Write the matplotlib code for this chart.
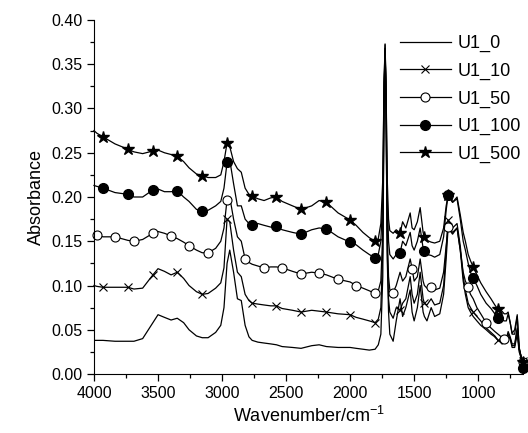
import matplotlib
matplotlib.use('Agg')
import matplotlib.pyplot as plt
from matplotlib.ticker import MultipleLocator, FormatStrFormatter

plt.rcParams['font.family'] = ['Liberation Sans', 'DejaVu Sans']
plt.rcParams['mathtext.fontset'] = 'custom'
plt.rcParams['mathtext.rm'] = 'Liberation Sans'

# wavenumber grid (cm-1)
wavenumber = [4000, 3977, 3930, 3836, 3735, 3688, 3620, 3540, 3500, 3450,
              3398, 3350, 3300, 3258, 3200, 3155, 3109, 3050, 3010, 2985,
              2961, 2940, 2910, 2880, 2850, 2820, 2790, 2765, 2720, 2672,
              2620, 2575, 2531, 2450, 2383, 2300, 2242, 2185, 2094, 2000,
              1953, 1900, 1850, 1805, 1780, 1760, 1745, 1735, 1727, 1720,
              1710, 1700, 1690, 1664, 1640, 1610, 1590, 1565, 1531, 1516,
              1500, 1475, 1453, 1430, 1420, 1400, 1367, 1340, 1300, 1270,
              1250, 1235, 1200, 1165, 1140, 1117, 1100, 1078, 1060, 1039,
              1010, 980, 938, 900, 870, 845, 820, 797, 780, 766,
              750, 735, 715, 695, 680, 665, 650]

u1_0 = [0.038, 0.038, 0.038, 0.037, 0.037, 0.037, 0.040, 0.058, 0.067, 0.064,
        0.061, 0.063, 0.058, 0.050, 0.043, 0.041, 0.041, 0.047, 0.055, 0.075,
        0.125, 0.140, 0.115, 0.085, 0.083, 0.055, 0.042, 0.038, 0.036, 0.035,
        0.034, 0.033, 0.031, 0.030, 0.029, 0.032, 0.033, 0.031, 0.030, 0.030,
        0.029, 0.028, 0.027, 0.028, 0.033, 0.045, 0.110, 0.300, 0.373, 0.300,
        0.130, 0.070, 0.045, 0.037, 0.060, 0.085, 0.065, 0.075, 0.095, 0.070,
        0.060, 0.075, 0.100, 0.070, 0.065, 0.060, 0.075, 0.065, 0.068, 0.090,
        0.130, 0.165, 0.158, 0.165, 0.140, 0.105, 0.090, 0.075, 0.070, 0.065,
        0.060, 0.055, 0.050, 0.045, 0.042, 0.038, 0.036, 0.035, 0.035, 0.042,
        0.040, 0.030, 0.030, 0.045, 0.025, 0.018, 0.012]

u1_10 = [0.100, 0.099, 0.098, 0.098, 0.098, 0.096, 0.097, 0.112, 0.119, 0.116,
         0.112, 0.115, 0.108, 0.100, 0.093, 0.090, 0.091, 0.097, 0.103, 0.120,
         0.175, 0.172, 0.140, 0.115, 0.110, 0.090, 0.083, 0.080, 0.079, 0.078,
         0.077, 0.077, 0.074, 0.072, 0.070, 0.072, 0.071, 0.070, 0.068, 0.067,
         0.064, 0.062, 0.060, 0.058, 0.062, 0.075, 0.140, 0.310, 0.368, 0.310,
         0.140, 0.085, 0.070, 0.063, 0.075, 0.072, 0.080, 0.085, 0.110, 0.090,
         0.080, 0.090, 0.115, 0.085, 0.080, 0.078, 0.085, 0.078, 0.080, 0.100,
         0.140, 0.174, 0.165, 0.170, 0.145, 0.110, 0.095, 0.080, 0.075, 0.070,
         0.065, 0.060, 0.052, 0.047, 0.043, 0.038, 0.037, 0.036, 0.037, 0.045,
         0.040, 0.032, 0.032, 0.050, 0.028, 0.020, 0.015]

u1_50 = [0.158, 0.157, 0.155, 0.155, 0.151, 0.150, 0.152, 0.159, 0.161, 0.159,
         0.156, 0.153, 0.149, 0.145, 0.140, 0.137, 0.137, 0.142, 0.150, 0.165,
         0.197, 0.200, 0.175, 0.155, 0.150, 0.130, 0.126, 0.124, 0.122, 0.120,
         0.121, 0.121, 0.120, 0.116, 0.113, 0.115, 0.114, 0.112, 0.107, 0.104,
         0.100, 0.097, 0.094, 0.091, 0.094, 0.105, 0.160, 0.320, 0.365, 0.320,
         0.160, 0.110, 0.095, 0.092, 0.100, 0.115, 0.105, 0.110, 0.130, 0.119,
         0.105, 0.110, 0.130, 0.105, 0.100, 0.097, 0.098, 0.095, 0.097, 0.115,
         0.145, 0.166, 0.160, 0.165, 0.140, 0.115, 0.105, 0.098, 0.090, 0.085,
         0.075, 0.068, 0.058, 0.052, 0.048, 0.045, 0.042, 0.040, 0.040, 0.048,
         0.042, 0.034, 0.034, 0.052, 0.028, 0.020, 0.014]

u1_100 = [0.213, 0.212, 0.210, 0.205, 0.203, 0.200, 0.200, 0.208, 0.209, 0.206,
          0.206, 0.207, 0.200, 0.195, 0.186, 0.184, 0.185, 0.190, 0.195, 0.210,
          0.239, 0.242, 0.215, 0.190, 0.190, 0.175, 0.170, 0.168, 0.170, 0.168,
          0.166, 0.167, 0.163, 0.160, 0.158, 0.163, 0.165, 0.164, 0.155, 0.149,
          0.146, 0.140, 0.135, 0.131, 0.135, 0.150, 0.200, 0.330, 0.368, 0.330,
          0.200, 0.150, 0.135, 0.130, 0.135, 0.137, 0.150, 0.145, 0.160, 0.145,
          0.140, 0.150, 0.165, 0.142, 0.139, 0.135, 0.134, 0.132, 0.135, 0.155,
          0.185, 0.202, 0.194, 0.198, 0.175, 0.150, 0.140, 0.125, 0.115, 0.108,
          0.100, 0.090, 0.080, 0.074, 0.068, 0.063, 0.062, 0.060, 0.060, 0.068,
          0.058, 0.045, 0.045, 0.065, 0.030, 0.018, 0.007]

u1_500 = [0.275, 0.272, 0.268, 0.260, 0.254, 0.251, 0.249, 0.252, 0.253, 0.250,
          0.248, 0.246, 0.240, 0.233, 0.226, 0.224, 0.222, 0.222, 0.225, 0.240,
          0.261, 0.257, 0.240, 0.232, 0.228, 0.210, 0.203, 0.201, 0.198, 0.196,
          0.199, 0.200, 0.195, 0.190, 0.186, 0.190, 0.196, 0.194, 0.182, 0.174,
          0.168, 0.160, 0.154, 0.150, 0.153, 0.170, 0.220, 0.330, 0.372, 0.330,
          0.220, 0.175, 0.162, 0.159, 0.163, 0.159, 0.172, 0.165, 0.182, 0.165,
          0.163, 0.172, 0.188, 0.160, 0.155, 0.151, 0.149, 0.148, 0.150, 0.165,
          0.190, 0.202, 0.194, 0.200, 0.180, 0.160, 0.150, 0.135, 0.128, 0.121,
          0.112, 0.103, 0.093, 0.085, 0.078, 0.073, 0.072, 0.068, 0.068, 0.070,
          0.058, 0.046, 0.050, 0.067, 0.030, 0.020, 0.014]

# wavenumbers where the markers sit
marks_wide = [3930, 3735, 3540, 3350, 3155, 2961, 2765, 2575, 2383, 2185,
              2000, 1805, 1610, 1420, 1235, 1039, 845, 650]
marks_dense = [3977, 3836, 3688, 3540, 3398, 3258, 3109, 2961, 2820, 2672,
               2531, 2383, 2242, 2094, 1953, 1805, 1664, 1516, 1367, 1235,
               1078, 938, 797, 650]

labels = ['U1_0', 'U1_10', 'U1_50', 'U1_100', 'U1_500']

idx_wide = [wavenumber.index(w) for w in marks_wide]
idx_dense = [wavenumber.index(w) for w in marks_dense]

fig = plt.figure(figsize=(5.28, 4.33), dpi=100)
ax = fig.add_axes([94 / 528, 59 / 433, 429 / 528, 354 / 433])

ax.plot(wavenumber, u1_0, color='black', lw=0.9, label=labels[0])
ax.plot(wavenumber, u1_10, color='black', lw=0.9, marker='x', ms=6,
        mew=0.8, markevery=idx_wide, label=labels[1], clip_on=False)
ax.plot(wavenumber, u1_50, color='black', lw=0.9, marker='o', ms=6.5,
        mfc='white', mew=0.8, markevery=idx_dense, label=labels[2], clip_on=False)
ax.plot(wavenumber, u1_100, color='black', lw=0.9, marker='o', ms=7,
        markevery=idx_wide, label=labels[3], clip_on=False)
ax.plot(wavenumber, u1_500, color='black', lw=0.9, marker='*', ms=9,
        markevery=idx_wide, label=labels[4], clip_on=False)

ax.set_xlim(4000, 650)
ax.set_ylim(0, 0.40)
ax.xaxis.set_major_locator(MultipleLocator(500))
ax.xaxis.set_minor_locator(MultipleLocator(250))
ax.yaxis.set_major_locator(MultipleLocator(0.05))
ax.yaxis.set_minor_locator(MultipleLocator(0.025))
ax.yaxis.set_major_formatter(FormatStrFormatter('%.2f'))
ax.spines['top'].set_visible(False)
ax.spines['right'].set_visible(False)
ax.tick_params(which='both', direction='out', labelsize=11.5, width=0.9)
ax.tick_params(which='major', length=5)
ax.tick_params(which='minor', length=3)

ax.set_xlabel('Wavenumber/cm$^{-1}$', fontsize=13)
ax.set_ylabel('Absorbance', fontsize=13)

ax.legend(loc='upper left', bbox_to_anchor=((400 - 94) / 429, (374 - 35) / 354),
          frameon=False, fontsize=13, handlelength=2.8, handletextpad=0.4,
          labelspacing=0.58, borderpad=0, borderaxespad=0)

fig.savefig('out.png', dpi=100)
